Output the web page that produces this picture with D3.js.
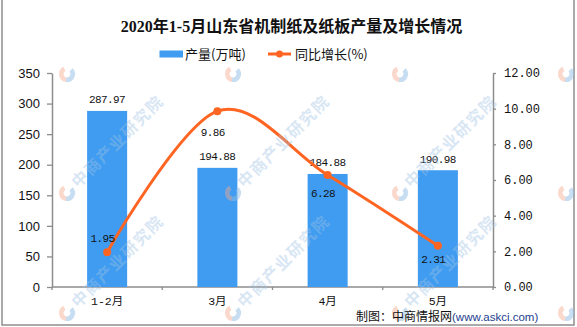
<!DOCTYPE html>
<html>
<head>
<meta charset="utf-8">
<script src="https://cdn.jsdelivr.net/npm/d3@7/dist/d3.min.js"></script>
<style>
  html, body { margin: 0; padding: 0; background: #fff; }
  svg { display: block; }
</style>
</head>
<body>
<svg id="chart" width="577" height="327"></svg>
<script>
// ---- data ----
const categories = ["1-2月", "3月", "4月", "5月"];
const output = [287.97, 194.88, 184.88, 190.98];      // 产量(万吨)
const growth = [1.95, 9.86, 6.28, 2.31];               // 同比增长(%)
const leftTicks = [0, 50, 100, 150, 200, 250, 300, 350];
const rightTicks = [0, 2, 4, 6, 8, 10, 12];
const titleText = "2020年1-5月山东省机制纸及纸板产量及增长情况";
const seriesNames = ["产量(万吨)", "同比增长(%)"];

// ---- layout ----
const W = 577, H = 327;
const plot = { left: 52, right: 493, top: 73, bottom: 287 };
const lineLabelDy = [-10.5, 24.5, 21.5, 17];
const BLUE = "#3f9cf1", ORANGE = "#ff6522", AXIS = "#8c8c8c";

const svg = d3.select("#chart");

// scales
const x = d3.scaleBand().domain(categories)
  .range([plot.left, plot.right]).paddingInner(0.637).paddingOuter(0.3185);
const yL = d3.scaleLinear().domain([0, 350]).range([plot.bottom, plot.top]);
const yR = d3.scaleLinear().domain([0, 12]).range([plot.bottom, plot.top]);
const cx = c => x(c) + x.bandwidth() / 2;

// frame
svg.append("path")
  .attr("d", `M2,-1 V325 H574 V-1`)
  .attr("fill", "none").attr("stroke", "#8f8f8f").attr("stroke-width", 1.5);

// title
svg.append("text")
  .attr("x", 291.5).attr("y", 32).attr("text-anchor", "middle")
  .attr("font-family", "'Liberation Serif', 'Noto Sans CJK SC', serif")
  .attr("font-weight", "bold").attr("font-size", 16).attr("fill", "#111")
  .text(titleText);

// legend
const lg = svg.append("g").attr("font-family", "'Noto Sans CJK SC', sans-serif")
  .attr("font-size", 13).attr("fill", "#111");
lg.append("rect").attr("x", 159.5).attr("y", 50.5).attr("width", 23.5).attr("height", 7).attr("fill", BLUE);
lg.append("text").attr("x", 185).attr("y", 59).text(seriesNames[0]);
lg.append("line").attr("x1", 268).attr("x2", 291).attr("y1", 54).attr("y2", 54)
  .attr("stroke", ORANGE).attr("stroke-width", 3);
lg.append("circle").attr("cx", 279.5).attr("cy", 54).attr("r", 3.5).attr("fill", ORANGE);
lg.append("text").attr("x", 295).attr("y", 59).text(seriesNames[1]);

// left axis
const axL = svg.append("g").attr("transform", `translate(${plot.left},0)`)
  .call(d3.axisLeft(yL).tickValues(leftTicks).tickSize(5).tickSizeOuter(0).tickPadding(7));
axL.selectAll("text").attr("font-family", "'Liberation Sans', Arial, sans-serif")
  .attr("font-size", 13).attr("fill", "#111");

// right axis
const axR = svg.append("g").attr("transform", `translate(${plot.right},0)`)
  .call(d3.axisRight(yR).tickValues(rightTicks).tickFormat(d3.format(".2f"))
    .tickSize(3).tickSizeOuter(0).tickPadding(8));
axR.selectAll("text").attr("font-family", "'Liberation Mono', monospace")
  .attr("font-size", 12).attr("fill", "#111");

[axL, axR].forEach(a => {
  a.select(".domain").attr("stroke", AXIS).attr("stroke-width", 1.5);
  a.selectAll(".tick line").attr("stroke", AXIS).attr("stroke-width", 1.3);
});

// x axis: baseline, boundary ticks and category labels
const xg = svg.append("g");
xg.append("line").attr("x1", plot.left).attr("x2", plot.right)
  .attr("y1", plot.bottom).attr("y2", plot.bottom)
  .attr("stroke", AXIS).attr("stroke-width", 1.5);
const bounds = categories.map(c => cx(c) - x.step() / 2).concat([plot.right]);
xg.selectAll("line.b").data(bounds).join("line").attr("class", "b")
  .attr("x1", d => d).attr("x2", d => d)
  .attr("y1", plot.bottom).attr("y2", plot.bottom + 3)
  .attr("stroke", AXIS).attr("stroke-width", 1.3);
xg.selectAll("text").data(categories).join("text")
  .attr("x", d => cx(d)).attr("y", 305).attr("text-anchor", "middle")
  .attr("font-family", "'Liberation Mono', 'Noto Sans CJK SC', monospace")
  .attr("font-size", 11.5).attr("fill", "#111")
  .text(d => d);

// bars
svg.append("g").selectAll("rect").data(output).join("rect")
  .attr("x", (d, i) => x(categories[i]))
  .attr("y", d => yL(d))
  .attr("width", x.bandwidth())
  .attr("height", d => yL(0) - yL(d))
  .attr("fill", BLUE);

// bar value labels
svg.append("g").selectAll("text").data(output).join("text")
  .attr("x", (d, i) => cx(categories[i]))
  .attr("y", d => yL(d) - 7.5)
  .attr("text-anchor", "middle")
  .attr("font-family", "'Liberation Mono', monospace")
  .attr("font-size", 11).attr("letter-spacing", -0.6).attr("fill", "#111")
  .text(d => d.toFixed(2));

// growth line (smoothed)
const pts = growth.map((v, i) => [cx(categories[i]), yR(v)]);
svg.append("path")
  .attr("d", d3.line().curve(d3.curveCardinal.tension(0))(pts))
  .attr("fill", "none").attr("stroke", ORANGE).attr("stroke-width", 3)
  .attr("stroke-linejoin", "round");
svg.append("g").selectAll("circle").data(pts).join("circle")
  .attr("cx", d => d[0]).attr("cy", d => d[1]).attr("r", 4).attr("fill", ORANGE);

// growth value labels
svg.append("g").selectAll("text").data(growth).join("text")
  .attr("x", (d, i) => cx(categories[i]) - 4.5)
  .attr("y", (d, i) => yR(d) + lineLabelDy[i])
  .attr("text-anchor", "middle")
  .attr("font-family", "'Liberation Mono', monospace")
  .attr("font-size", 11).attr("letter-spacing", -0.6).attr("fill", "#111")
  .text(d => d.toFixed(2));

// watermark: logo marks on a grid, with the brand name where it fits
const wm = svg.append("g").attr("pointer-events", "none");
const colsX = [67, 233, 400, 566];
const rowsY = [74, 193, 313];
const arcR = d3.arc().innerRadius(3.5).outerRadius(8);
rowsY.forEach((yy, ri) => colsX.forEach((xx, ci) => {
  const g = wm.append("g").attr("transform", `translate(${xx},${yy})`);
  g.append("path").attr("d", arcR({ startAngle: -Math.PI * 0.95, endAngle: -Math.PI * 0.15 }))
    .attr("fill", "#f4a98f").attr("opacity", 0.45);
  g.append("path").attr("d", arcR({ startAngle: Math.PI * 0.25, endAngle: Math.PI * 1.05 }))
    .attr("fill", "#8fbbe3").attr("opacity", 0.5);
  if (ri > 0 && ci < colsX.length - 1) {
    g.append("text").attr("transform", "rotate(-45) translate(11,5)")
      .attr("font-family", "'Noto Sans CJK SC', sans-serif").attr("font-size", 16)
      .attr("letter-spacing", 1.5).attr("font-weight", "bold")
      .attr("fill", "#9fc3e6").attr("opacity", 0.4)
      .text("中商产业研究院");
  }
}));

// source note
const src = svg.append("text").attr("x", 356).attr("y", 321).attr("font-size", 12);
src.append("tspan").attr("font-family", "'Noto Sans CJK SC', sans-serif").attr("fill", "#111")
  .text("制图：中商情报网");
src.append("tspan").attr("font-family", "'Liberation Sans', Arial, sans-serif")
  .attr("font-size", 11.5).attr("fill", "#23408e").text("(www.askci.com)");
</script>
</body>
</html>
